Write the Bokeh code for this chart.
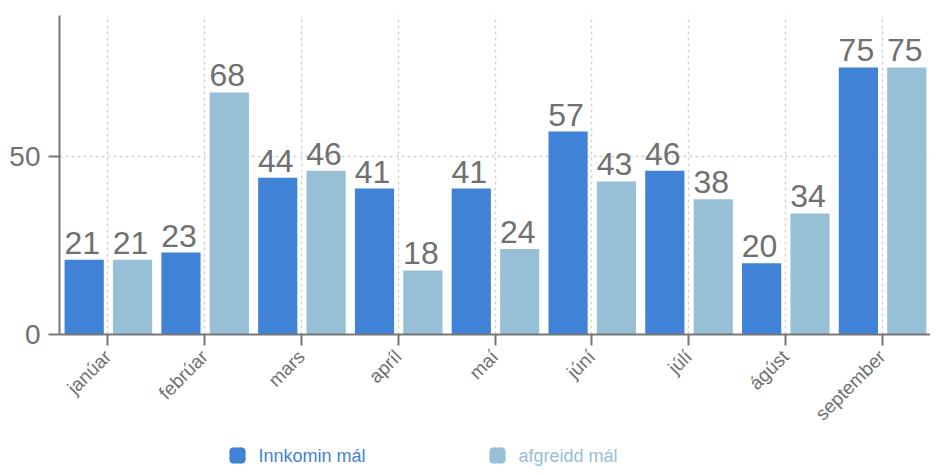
from bokeh.plotting import figure
from bokeh.layouts import column
from bokeh.models import ColumnDataSource, FactorRange, Range1d, FixedTicker
from bokeh.transform import dodge
from bokeh.core.properties import value
from bokeh.embed import file_html
from bokeh.resources import INLINE
import math

months = ["janúar", "febrúar", "mars", "apríl", "maí", "júní", "júlí", "ágúst", "september"]
innkomin = [21, 23, 44, 41, 41, 57, 46, 20, 75]
afgreidd = [21, 68, 46, 18, 24, 43, 38, 34, 75]
y_ticks = [0, 50]
series_names = ["Innkomin mál", "afgreidd mál"]

blue = "#4082d6"
light = "#97c0d6"
gray = "#707070"
font = "Liberation Sans"
W = 930
LEFT = 59

src = ColumnDataSource(dict(
    month=months,
    innkomin=innkomin,
    afgreidd=afgreidd,
    lab_i=[str(v) for v in innkomin],
    lab_a=[str(v) for v in afgreidd],
))

p = figure(width=W, height=440, x_range=FactorRange(*months), y_range=Range1d(0, 89.6),
           output_backend="svg", toolbar_location=None,
           min_border_left=LEFT, min_border_top=15, min_border_right=0, min_border_bottom=106)
p.outline_line_color = None

p.vbar(x=dodge("month", -0.245, range=p.x_range), top="innkomin", width=0.405,
       source=src, fill_color=blue, line_color=None)
p.vbar(x=dodge("month", 0.255, range=p.x_range), top="afgreidd", width=0.405,
       source=src, fill_color=light, line_color=None)

for off, col, lab in ((-0.245, "innkomin", "lab_i"), (0.255, "afgreidd", "lab_a")):
    p.text(x=dodge("month", off, range=p.x_range), y=col, text=lab, source=src,
           text_align="center", text_baseline="bottom", y_offset=-6, x_offset=-2,
           text_font=value(font), text_font_size="32px", text_color=gray)

p.xgrid.grid_line_color = "#d4d4d4"
p.xgrid.grid_line_dash = "3 3"
p.xgrid.grid_line_width = 1.5
p.ygrid.grid_line_color = "#d4d4d4"
p.ygrid.grid_line_dash = "3 3"
p.ygrid.grid_line_width = 1.5
p.yaxis.ticker = FixedTicker(ticks=y_ticks)

for ax in (p.xaxis[0], p.yaxis[0]):
    ax.axis_line_color = "#777777"
    ax.axis_line_width = 2
    ax.major_tick_line_color = "#777777"
    ax.major_tick_line_width = 2
    ax.minor_tick_line_color = None
    ax.major_tick_in = 0
    ax.major_tick_out = 11
    ax.major_label_text_color = gray
    ax.major_label_text_font = font

p.yaxis.major_label_text_font_size = "28px"
p.yaxis.major_label_standoff = 8
p.xaxis.major_label_text_font_size = "19px"
p.xaxis.major_label_orientation = math.pi / 4
p.xaxis.major_label_standoff = 8

# legend strip (page pixel coordinates; its frame is aligned with the chart's frame)
lg = figure(width=W, height=27, x_range=Range1d(LEFT, W), y_range=Range1d(0, 27),
            x_axis_type=None, y_axis_type=None,
            output_backend="svg", toolbar_location=None,
            min_border_left=LEFT, min_border_right=0, min_border_top=0, min_border_bottom=0)
lg.grid.visible = False
lg.outline_line_color = None

leg_x = [237, 497]
leg_y = 12
leg_colors = [blue, light]
for cx, col, name in zip(leg_x, leg_colors, series_names):
    lg.rect(x=cx, y=leg_y, width=16, height=8, fill_color=col, line_color=None)
    lg.rect(x=cx, y=leg_y, width=8, height=16, fill_color=col, line_color=None)
    lg.circle(x=[cx - 4, cx + 4, cx - 4, cx + 4], y=[leg_y - 4, leg_y - 4, leg_y + 4, leg_y + 4],
              radius=4, fill_color=col, line_color=None)
    lg.text(x=[cx + 21], y=[leg_y], text=[name], text_align="left", text_baseline="middle",
            text_font=value(font), text_font_size="18px", text_color=col)

open("out.html", "w").write(file_html(column(p, lg, spacing=0), INLINE))
